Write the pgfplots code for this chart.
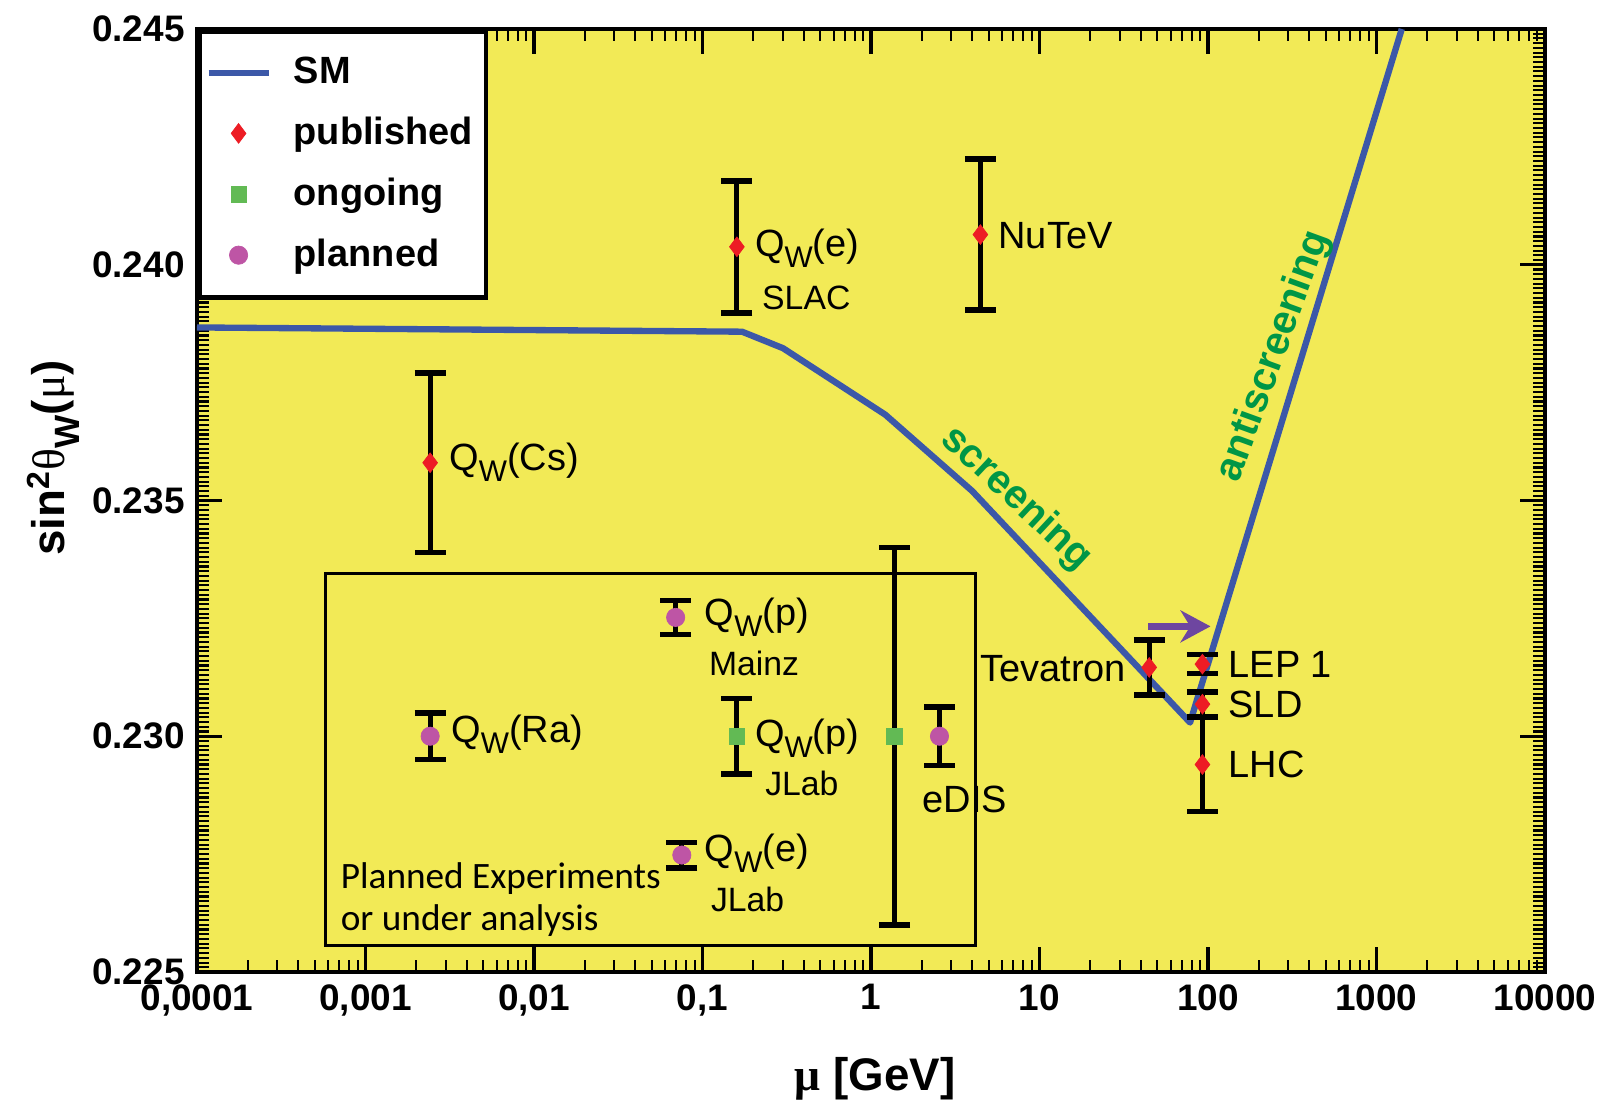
\documentclass[border=0pt]{standalone}
\usepackage{fontspec}
\setmainfont{Liberation Sans}
\newfontfamily\symfont{Liberation Serif}
\newfontfamily\calfont{Carlito}
\usepackage{pgfplots}
\pgfplotsset{compat=1.18}
\usetikzlibrary{arrows.meta}
\definecolor{bgyellow}{RGB}{242,234,86}
\definecolor{smblue}{RGB}{60,88,168}
\definecolor{pubred}{RGB}{237,28,36}
\definecolor{ongreen}{RGB}{98,186,84}
\definecolor{plpurple}{RGB}{190,85,165}
\definecolor{txtgreen}{RGB}{0,150,70}
\definecolor{arrpurple}{RGB}{110,70,160}
\newcommand{\QW}{Q\raisebox{-0.55ex}{\fontsize{8.5}{9}\selectfont W}}
\begin{document}
\begin{tikzpicture}
\useasboundingbox (0,0) rectangle (16.04,11.03);
\begin{axis}[
  at={(1.97cm,1.31cm)}, anchor=south west,
  scale only axis, width=13.48cm, height=9.43cm,
  xmode=log, xmin=1e-4, xmax=1e4, ymin=0.225, ymax=0.245,
  xtick={1e-4,1e-3,0.01,0.1,1,10,100,1000,10000},
  xticklabels={{0,0001},{0,001},{0,01},{0,1},1,10,100,1000,10000},
  minor xtick={2e-4,3e-4,4e-4,5e-4,6e-4,7e-4,8e-4,9e-4,
    2e-3,3e-3,4e-3,5e-3,6e-3,7e-3,8e-3,9e-3,
    0.02,0.03,0.04,0.05,0.06,0.07,0.08,0.09,
    0.2,0.3,0.4,0.5,0.6,0.7,0.8,0.9,
    2,3,4,5,6,7,8,9,
    20,30,40,50,60,70,80,90,
    200,300,400,500,600,700,800,900,
    2000,3000,4000,5000,6000,7000,8000,9000},
  ytick={0.225,0.23,0.235,0.24,0.245},
  yticklabels={0.225,0.230,0.235,0.240,0.245},
  minor y tick num=49,
  tick align=inside,
  major tick length=2.5mm, minor tick length=1.2mm,
  every major tick/.style={black, line width=0.9pt},
  every minor tick/.style={black, line width=0.6pt},
  axis line style={line width=1.4pt},
  axis background/.style={fill=bgyellow},
  tick label style={font=\bfseries\fontsize{10.5}{12}\selectfont},
  /pgf/number format/assume math mode=true,
  xlabel={{\symfont μ} \bfseries [GeV]},
  ylabel={\bfseries sin\textsuperscript{2}{\mdseries\symfont θ}\raisebox{-0.6ex}{\fontsize{10}{10}\selectfont W}({\mdseries\symfont μ})},
  label style={font=\bfseries\fontsize{13}{15}\selectfont},
  xlabel style={at={(axis description cs:0.503,-0.1135)}, anchor=center},
  ylabel style={at={(axis description cs:-0.1068,0.545)}, anchor=center, rotate=0},
  legend style={at={(0,1)}, anchor=north west, draw=black, line width=1.4pt, fill=white,
    font=\bfseries\fontsize{10.8}{12}\selectfont, inner xsep=1.7pt, inner ysep=5.3pt, row sep=4pt,
    /tikz/every odd column/.append style={column sep=1.5mm}},
  legend cell align=left,
  error bars/y dir=both, error bars/y explicit,
  error bars/error bar style={line width=1.4pt, black},
  error bars/error mark options={rotate=90, mark size=4.4pt, line width=1.6pt, black},
]
\draw[line width=0.8pt] (axis cs:5.82e-4,0.22556) rectangle (axis cs:4.16,0.23346);

\addplot[smblue, line width=1.8pt, line join=round, no markers] coordinates {
(1e-4,0.23867) (0.1718,0.23858) (0.3006,0.23823) (1.216,0.23682) (3.99,0.23520) (78.3,0.23029) (1413,0.245)};
\addlegendentry{SM}

\addplot[only marks, mark=diamond*, mark size=2.8pt, pubred, mark options={line width=0.2pt}] table[y error index=2] {
x y e
0.00242 0.23580 0.0019
0.160 0.24038 0.0014
4.46 0.24064 0.0016
44.8 0.23146 0.00058
92.7 0.23153 0.0002
92.7 0.23068 0.00026
92.7 0.22940 0.0010
};
\addlegendentry{published}

\addplot[only marks, mark=square*, mark size=2.2pt, ongreen, mark options={line width=0.2pt}] table[y error index=2] {
x y e
0.160 0.2300 0.0008
1.38 0.2300 0.0040
};
\addlegendentry{ongoing}

\addplot[only marks, mark=*, mark size=2.6pt, plpurple, mark options={line width=0.2pt}] table[y error index=2] {
x y e
0.00242 0.2300 0.00049
0.0693 0.23252 0.00036
0.0754 0.22748 0.00027
2.55 0.2300 0.00062
};
\addlegendentry{planned}

\draw[arrpurple, line width=1.8pt, -{Stealth[length=3mm,width=3.2mm]}] (axis cs:44.2,0.23233) -- (axis cs:103.5,0.23233);

\begin{scope}[every node/.style={inner sep=0pt, font=\fontsize{10.8}{12}\selectfont}]
\node[anchor=base west] at (axis cs:0.003113,0.23563) {\QW(Cs)};
\node[anchor=base west] at (axis cs:0.2032,0.24018) {\QW(e)};
\node[anchor=base west, font=\fontsize{9.6}{11}\selectfont] at (axis cs:0.2241,0.23906) {SLAC};
\node[anchor=base west] at (axis cs:5.657,0.24034) {NuTeV};
\node[anchor=base west] at (axis cs:0.10247,0.23235) {\QW(p)};
\node[anchor=base west, font=\fontsize{9.6}{11}\selectfont] at (axis cs:0.10837,0.23129) {Mainz};
\node[anchor=base west] at (axis cs:0.0032,0.22986) {\QW(Ra)};
\node[anchor=base west] at (axis cs:0.2032,0.22979) {\QW(p)};
\node[anchor=base west, font=\fontsize{9.6}{11}\selectfont] at (axis cs:0.2337,0.22875) {JLab};
\node[anchor=base west] at (axis cs:2.012,0.22838) {eDIS};
\node[anchor=base west] at (axis cs:0.10247,0.22734) {\QW(e)};
\node[anchor=base west, font=\fontsize{9.6}{11}\selectfont] at (axis cs:0.1114,0.22628) {JLab};
\node[anchor=base east] at (axis cs:32.92,0.23116) {Tevatron};
\node[anchor=base west] at (axis cs:131.3,0.23125) {LEP 1};
\node[anchor=base west] at (axis cs:131.3,0.23040) {SLD};
\node[anchor=base west] at (axis cs:131.3,0.22912) {LHC};
\node[anchor=base west, font=\calfont\fontsize{10.6}{12}\selectfont] at (axis cs:7.075e-4,0.22678) {Planned Experiments};
\node[anchor=base west, font=\calfont\fontsize{10.6}{12}\selectfont] at (axis cs:7.075e-4,0.22589) {or under analysis};
\node[anchor=center, rotate=-43, text=txtgreen, font=\bfseries\fontsize{11.5}{13}\selectfont] at (axis cs:7.275,0.23504) {screening};
\node[anchor=center, rotate=70, text=txtgreen, font=\bfseries\fontsize{11.5}{13}\selectfont] at (axis cs:246.3,0.23806) {antiscreening};
\end{scope}
\end{axis}
\end{tikzpicture}
\end{document}
